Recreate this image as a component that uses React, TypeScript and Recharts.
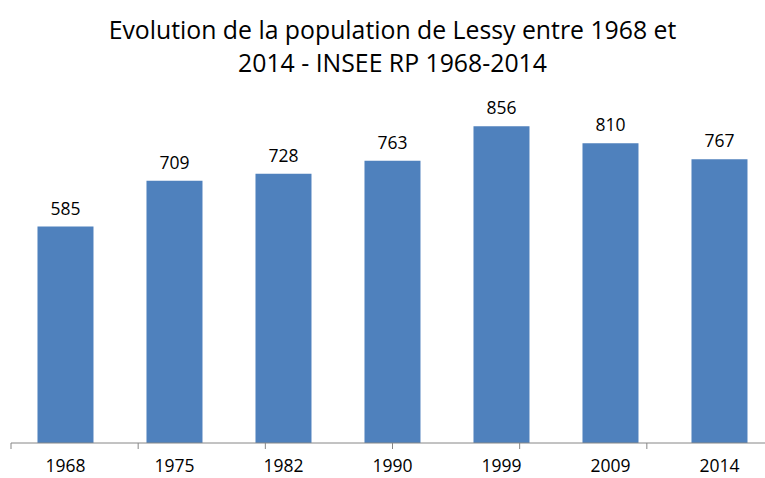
import React from "react";
import { BarChart, Bar, XAxis, YAxis, LabelList } from "recharts";

const years = ["1968", "1975", "1982", "1990", "1999", "2009", "2014"];
const population = [585, 709, 728, 763, 856, 810, 767];
const boundaryTicks = [0, 1, 2, 3, 4, 5, 6, 7];
const titleLines = ["Evolution de la population de Lessy entre 1968 et", "2014 - INSEE RP 1968-2014"];

const data = years.map((y, i) => ({ year: y, pop: population[i] }));

const FONT = "'Open Sans', sans-serif";

const EmptyTick = () => <g />;

export default function App() {
  return (
    <div style={{ position: "fixed", left: 0, top: 0, width: 765, height: 478, overflow: "hidden", background: "#fff" }}>
      <div
        style={{
          position: "absolute",
          left: 0,
          width: 785,
          top: 13,
          textAlign: "center",
          fontFamily: FONT,
          fontSize: 24.8,
          lineHeight: "33px",
          color: "#000",
        }}
      >
        {titleLines.map((t) => (
          <div key={t}>{t}</div>
        ))}
      </div>
      <div style={{ position: "absolute", left: 0, top: 0 }}>
        <BarChart
          width={790}
          height={478}
          data={data}
          margin={{ top: 73, right: 16, bottom: 0, left: 11 }}
          barCategoryGap="24.3%"
        >
          <YAxis hide domain={[0, 1000]} />
          <XAxis
            xAxisId="axis"
            type="number"
            domain={[0, 7]}
            ticks={boundaryTicks}
            height={6}
            tick={EmptyTick}
            tickSize={6}
            axisLine={{ stroke: "#868686" }}
            tickLine={{ stroke: "#868686" }}
            allowDataOverflow
          />
          <XAxis
            xAxisId="cat"
            dataKey="year"
            height={29}
            axisLine={false}
            tickLine={false}
            tickSize={0}
            tickMargin={0}
            tick={{ fontFamily: FONT, fontSize: 17.5, fill: "#000", dy: 11 }}
            interval={0}
          />
          <Bar xAxisId="cat" dataKey="pop" fill="#4F81BD" isAnimationActive={false}>
            <LabelList
              dataKey="pop"
              position="top"
              offset={12}
              style={{ fontFamily: FONT, fontSize: 17.5, fill: "#000" }}
            />
          </Bar>
        </BarChart>
      </div>
    </div>
  );
}
